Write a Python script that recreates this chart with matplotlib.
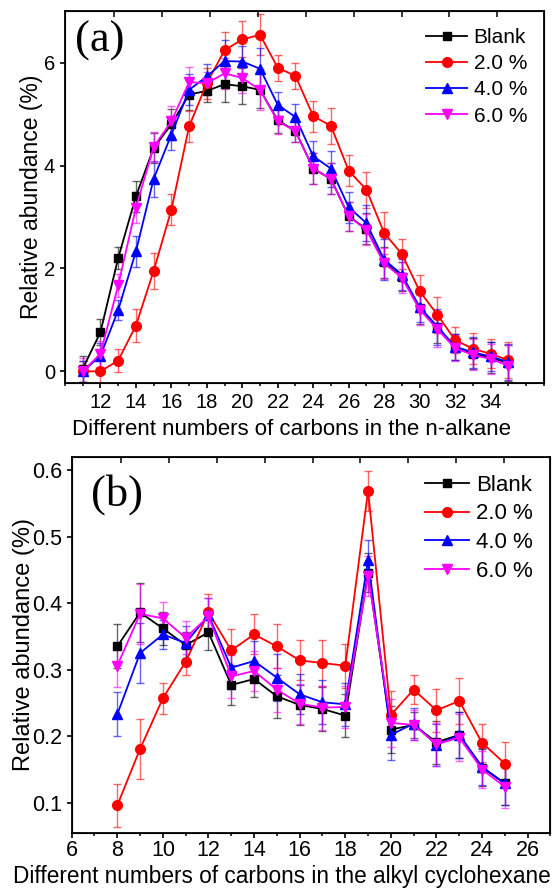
import numpy as np
import matplotlib
matplotlib.use('Agg')
import matplotlib.pyplot as plt
from matplotlib.ticker import MultipleLocator

plt.rcParams['font.family'] = ['Liberation Sans', 'DejaVu Sans']

# (a) n-alkane
xa = np.arange(11, 36)
blank_a = [0.05, 0.76, 2.2, 3.4, 4.34, 4.8, 5.38, 5.45, 5.58, 5.54, 5.47, 4.88, 4.67,
           3.94, 3.74, 3.01, 2.77, 2.12, 1.84, 1.23, 0.86, 0.47, 0.34, 0.27, 0.16]
red_a = [0.0, 0.0, 0.21, 0.89, 1.95, 3.14, 4.76, 5.6, 6.24, 6.45, 6.54, 5.9, 5.74,
         4.96, 4.77, 3.9, 3.53, 2.69, 2.28, 1.56, 1.1, 0.61, 0.44, 0.34, 0.22]
blue_a = [0.0, 0.3, 1.19, 2.33, 3.74, 4.6, 5.47, 5.73, 6.03, 6.02, 5.88, 5.18, 4.94,
          4.18, 3.94, 3.19, 2.88, 2.17, 1.88, 1.25, 0.87, 0.48, 0.37, 0.29, 0.18]
mag_a = [0.0, 0.34, 1.67, 3.18, 4.36, 4.86, 5.62, 5.6, 5.79, 5.7, 5.47, 4.86, 4.67,
         3.94, 3.74, 3.01, 2.75, 2.1, 1.82, 1.2, 0.82, 0.45, 0.32, 0.24, 0.11]
err_blank_a = [0.25, 0.25, 0.22, 0.3, 0.3, 0.3, 0.3, 0.22, 0.35, 0.35, 0.35, 0.25, 0.22,
               0.3, 0.3, 0.28, 0.3, 0.3, 0.28, 0.3, 0.3, 0.25, 0.3, 0.3, 0.35]
err_red_a = [0.2, 0.3, 0.22, 0.32, 0.35, 0.3, 0.3, 0.3, 0.35, 0.35, 0.4, 0.25, 0.25,
             0.3, 0.35, 0.3, 0.35, 0.4, 0.3, 0.32, 0.35, 0.25, 0.3, 0.28, 0.35]
err_blue_a = [0.2, 0.25, 0.2, 0.3, 0.35, 0.3, 0.3, 0.25, 0.4, 0.3, 0.4, 0.25, 0.25,
              0.3, 0.35, 0.3, 0.35, 0.4, 0.3, 0.3, 0.35, 0.25, 0.3, 0.28, 0.35]
err_mag_a = [0.25, 0.25, 0.22, 0.3, 0.3, 0.3, 0.3, 0.22, 0.3, 0.3, 0.4, 0.25, 0.22,
             0.3, 0.3, 0.28, 0.3, 0.3, 0.3, 0.3, 0.35, 0.25, 0.3, 0.3, 0.4]

# (b) alkyl cyclohexane
xb = np.arange(8, 26)
blank_b = [0.335, 0.386, 0.362, 0.337, 0.356, 0.277, 0.286, 0.26, 0.247, 0.241, 0.231,
           0.446, 0.21, 0.217, 0.191, 0.202, 0.153, 0.129]
red_b = [0.096, 0.181, 0.257, 0.312, 0.386, 0.329, 0.353, 0.335, 0.314, 0.31, 0.306,
         0.569, 0.232, 0.27, 0.239, 0.253, 0.19, 0.159]
blue_b = [0.233, 0.325, 0.353, 0.34, 0.382, 0.303, 0.313, 0.288, 0.263, 0.251, 0.248,
          0.465, 0.202, 0.219, 0.187, 0.202, 0.154, 0.129]
mag_b = [0.306, 0.384, 0.377, 0.348, 0.38, 0.29, 0.298, 0.27, 0.249, 0.243, 0.244,
         0.441, 0.22, 0.217, 0.188, 0.198, 0.15, 0.124]
err_blank_b = [0.033, 0.045, 0.025, 0.02, 0.027, 0.03, 0.027, 0.032, 0.03, 0.033, 0.032,
               0.03, 0.035, 0.02, 0.032, 0.035, 0.028, 0.032]
err_red_b = [0.032, 0.045, 0.023, 0.02, 0.027, 0.032, 0.03, 0.033, 0.03, 0.035, 0.033,
             0.03, 0.036, 0.022, 0.032, 0.035, 0.028, 0.032]
err_blue_b = [0.033, 0.045, 0.022, 0.025, 0.025, 0.032, 0.03, 0.035, 0.03, 0.033, 0.032,
              0.03, 0.037, 0.024, 0.032, 0.035, 0.028, 0.032]
err_mag_b = [0.032, 0.045, 0.024, 0.025, 0.027, 0.032, 0.03, 0.033, 0.03, 0.033, 0.032,
             0.03, 0.036, 0.022, 0.032, 0.035, 0.028, 0.032]

labels = ['Blank', '2.0 %', '4.0 %', '6.0 %']
colors = ['black', '#ff0000', '#0000ff', '#ff00ff']
markers = ['s', 'o', '^', 'v']
msizes = [6, 7, 7.5, 7.5]

fig = plt.figure(figsize=(5.6, 8.91), dpi=100)
ax1 = fig.add_axes([0.116, 0.5705, 0.855, 0.417])
ax2 = fig.add_axes([0.128, 0.0654, 0.855, 0.422])


def draw(ax, x, ys, errs):
    for y, e, c, m, ms, lab in zip(ys, errs, colors, markers, msizes, labels):
        ax.errorbar(x, y, yerr=e, fmt='none', ecolor=c, alpha=0.6, elinewidth=1.0,
                    capsize=3, capthick=1.0, zorder=2)
        ax.plot(x, y, color=c, marker=m, markersize=ms, linewidth=1.3, label=lab, zorder=3)


def style(ax, fs, xpad, legfs):
    for s in ax.spines.values():
        s.set_linewidth(1.3)
    ax.tick_params(axis='both', which='major', direction='out', length=3.5, width=1.2,
                   labelsize=fs, top=False, right=False)
    ax.tick_params(axis='x', which='major', pad=xpad)
    ax.tick_params(axis='x', which='minor', direction='out', length=2.5, width=1.1, top=False)
    ax.xaxis.set_minor_locator(MultipleLocator(1))
    ax.legend(loc='upper right', frameon=False, fontsize=legfs, handlelength=2.0,
              labelspacing=0.35, handletextpad=0.3, borderaxespad=0.4)
    # odd top axis ticks like the original
    t = ax.twiny()
    t.set_xlim(0, 10)
    t.set_xticks(np.arange(1.03, 10, 1.0))
    t.tick_params(axis='x', direction='in', length=4, width=1.1, labeltop=False)
    return t


draw(ax1, xa, [blank_a, red_a, blue_a, mag_a], [err_blank_a, err_red_a, err_blue_a, err_mag_a])
ax1.set_xlim(10, 37)
ax1.set_ylim(-0.22, 7.0)
ax1.set_xticks(np.arange(12, 36, 2))
ax1.yaxis.set_major_locator(MultipleLocator(2))
ax1.set_xlabel('Different numbers of carbons in the n-alkane', fontsize=16)
ax1.xaxis.set_label_coords(0.474, -0.098)
ax1.set_ylabel('Relative abundance (%)', fontsize=16.5, labelpad=1)
style(ax1, 14.5, 4, 15)
ax1.text(0.02, 0.975, '(a)', transform=ax1.transAxes, fontsize=32,
         family=['Liberation Serif'], va='top', ha='left')

draw(ax2, xb, [blank_b, red_b, blue_b, mag_b], [err_blank_b, err_red_b, err_blue_b, err_mag_b])
ax2.set_xlim(6, 27)
ax2.set_ylim(0.055, 0.62)
ax2.set_xticks(np.arange(6, 27, 2))
ax2.yaxis.set_major_locator(MultipleLocator(0.1))
ax2.set_xlabel('Different numbers of carbons in the alkyl cyclohexane', fontsize=16.3)
ax2.xaxis.set_label_coords(0.44, -0.085)
ax2.set_ylabel('Relative abundance (%)', fontsize=17, labelpad=-2)
style(ax2, 15.5, 1.5, 16)
ax2.text(0.04, 0.955, '(b)', transform=ax2.transAxes, fontsize=32,
         family=['Liberation Serif'], va='top', ha='left')

fig.savefig('out.png', dpi=100)
